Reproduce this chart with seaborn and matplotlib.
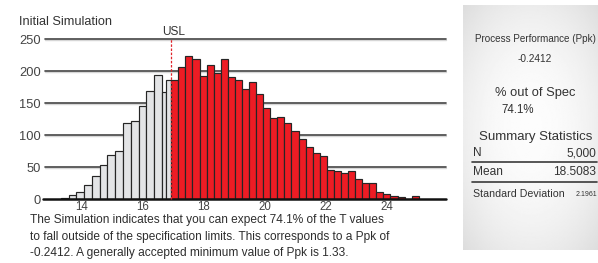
import numpy as np
import pandas as pd
import matplotlib
matplotlib.use("Agg")
import matplotlib.pyplot as plt
from matplotlib import font_manager
from matplotlib.lines import Line2D
import seaborn as sns

# ---------------- data ----------------
USL = 16.93
gray_counts = [2, 6, 12, 22, 36, 53, 70, 75, 119, 123, 146, 170, 195, 168, 187]
red_counts = [187, 206, 224, 219, 192, 210, 197, 220, 191, 186, 173, 183, 164,
              143, 127, 129, 120, 107, 94, 81, 72, 68, 46, 44, 41, 44, 31, 25,
              25, 12, 8, 5, 3, 1, 5]
y_ticks = [0, 50, 100, 150, 200, 250]
x_ticks = [14, 16, 18, 20, 22, 24]

# binning parameters
GRAY_START, GRAY_WIDTH, GRAY_SPLIT = 13.32, 0.254, 16.75
RED_WIDTH = 0.2314

title = "Initial Simulation"
paragraph = [
    "The Simulation indicates that you can expect 74.1% of the T values",
    "to fall outside of the specification limits. This corresponds to a Ppk of",
    "-0.2412. A generally accepted minimum value of Ppk is 1.33.",
]
ppk_label, ppk_value = "Process Performance (Ppk)", "-0.2412"
oos_label, oos_value = "% out of Spec", "74.1%"
stats_title = "Summary Statistics"
stats_rows = [("N", "5,000"), ("Mean", "18.5083")]
sd_label, sd_value = "Standard Deviation", "2.1961"

# ---------------- style ----------------
sns.set_theme(style="white")
plt.rcParams["font.family"] = ["Liberation Sans", "DejaVu Sans"]


def has_font(name):
    try:
        font_manager.findfont(font_manager.FontProperties(family=name),
                              fallback_to_default=False)
        return True
    except Exception:
        return False


HAS_NARROW = has_font("Liberation Sans Narrow")
NARROW = ["Liberation Sans Narrow", "Liberation Sans"] if HAS_NARROW else ["Liberation Sans"]
nscale = 1.0 if HAS_NARROW else 0.82

W, H = 598, 263
fig = plt.figure(figsize=(W / 100, H / 100), dpi=100)
fig.patch.set_facecolor("white")


def T(x, y, s, **kw):
    kw.setdefault("color", "#333333")
    return fig.text(x / W, 1 - y / H, s, **kw)


# main axes
ymax = 251
ax = fig.add_axes([45 / W, (H - 199.3) / H, (446 - 45) / W, (199.3 - 38.66) / H])
ax.set_facecolor("none")

gray_edges = np.r_[GRAY_START + GRAY_WIDTH * np.arange(14), GRAY_SPLIT, USL]
red_edges = USL + RED_WIDTH * np.arange(len(red_counts) + 1)

for edges, counts, col in [(gray_edges, gray_counts, "#E3E4E6"),
                           (red_edges, red_counts, "#ED1C24")]:
    df = pd.DataFrame({"x": (edges[:-1] + edges[1:]) / 2, "w": counts})
    sns.histplot(data=df, x="x", weights="w", bins=list(edges), stat="count",
                 color=col, edgecolor="#262626", linewidth=0.85, alpha=1,
                 ax=ax, zorder=2)

ax.set_xlim(12.80, 25.92)
ax.set_ylim(0, ymax)
ax.set_xlabel("")
ax.set_ylabel("")
for s in ax.spines.values():
    s.set_visible(False)
ax.set_yticks(y_ticks)
ax.set_xticks(x_ticks)
ax.tick_params(axis="y", length=0, pad=3, labelsize=9.3, labelcolor="#444444")
ax.tick_params(axis="x", length=0, pad=1.5, labelsize=8.3, labelcolor="#444444")
ax.grid(False)
for yv in y_ticks[1:]:
    # faint shadow under each grid line, then the line itself
    ax.plot([0, 1], [yv - 1.4, yv - 1.4], transform=ax.get_yaxis_transform(),
            color="#d6d6d6", lw=1.0, zorder=0.8, clip_on=False)
    ax.plot([0, 1], [yv, yv], transform=ax.get_yaxis_transform(),
            color="#444444", lw=1.2, zorder=1, clip_on=False)
ax.plot([-0.005, 1], [0, 0], transform=ax.get_yaxis_transform(),
        color="#111111", lw=1.8, zorder=3, clip_on=False)

# USL line
ax.plot([USL, USL], [0, 250], color="#E0242B", lw=0.9, ls=(0, (2, 1.3)),
        zorder=4, clip_on=False)
ax.annotate("USL", xy=(USL, 250), xytext=(1.6, 5.3), textcoords="offset points",
            ha="center", va="center", fontsize=8.6, color="#333333")

# title & paragraph
T(19.3, 21.7, title, ha="left", va="center", fontsize=9.2)
for i, line in enumerate(paragraph):
    T(30, 220 + 16.65 * i, line, ha="left", va="center", fontsize=8.55,
      color="#2e2e2e")

# right panel with soft gradient
pax = fig.add_axes([462.7 / W, (H - 250) / H, (W - 462.7) / W, 245 / H])
yy, xx = np.mgrid[-1:1:200j, -1:1:120j]
r = np.sqrt((xx * 0.95) ** 2 + (yy * 1.0) ** 2)
grad = 0.99 - 0.065 * np.clip(r, 0, 1.4) ** 2
pax.imshow(grad, cmap="gray", vmin=0, vmax=1, aspect="auto",
           extent=[0, 1, 0, 1], interpolation="bilinear")
pax.axis("off")

T(535, 39.3, ppk_label, ha="center", va="center", family=NARROW,
  fontsize=8.7 * nscale)
T(535, 59.3, ppk_value, ha="center", va="center", family=NARROW,
  fontsize=8.9 * nscale)
T(535, 93.3, oos_label, ha="center", va="center", fontsize=9.3)
T(518, 110, oos_value, ha="center", va="center", fontsize=8.3)
T(535.5, 136.7, stats_title, ha="center", va="center", fontsize=9.5)
for i, (lab, val) in enumerate(stats_rows):
    yy_ = 153.3 + 18.4 * i
    T(473, yy_, lab, ha="left", va="center", fontsize=8.6)
    T(596, yy_, val, ha="right", va="center", fontsize=8.6)
for ly in (162.3, 181.7):
    fig.add_artist(Line2D([472 / W, 597 / W], [1 - ly / H] * 2,
                          color="#3a3a3a", lw=1.2))
T(473, 194, sd_label, ha="left", va="center", family=NARROW,
  fontsize=9.3 * nscale)
T(597, 195, sd_value, ha="right", va="center", family=NARROW,
  fontsize=6.2 * nscale)

fig.savefig("out.png", dpi=100, facecolor="white")
